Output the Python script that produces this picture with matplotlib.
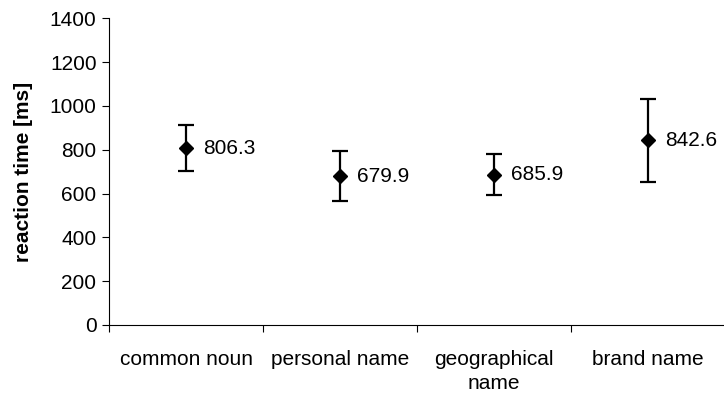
import matplotlib
matplotlib.use("Agg")
import matplotlib.pyplot as plt
import numpy as np

categories = ["common noun", "personal name", "geographical\nname", "brand name"]
means = [806.3, 679.9, 685.9, 842.6]
upper = [912, 795, 779, 1033]
lower = [702, 566, 593, 652]
value_labels = ["806.3", "679.9", "685.9", "842.6"]
yticks = [0, 200, 400, 600, 800, 1000, 1200, 1400]

plt.rcParams['font.family'] = ['Liberation Sans', 'DejaVu Sans']

fig = plt.figure(figsize=(7.24, 3.94), dpi=100)
ax = fig.add_axes([109/724, 1 - 325/394, 616/724, (325 - 18.3)/394])

x = np.arange(len(categories))
yerr = [np.array(means) - np.array(lower), np.array(upper) - np.array(means)]
ax.errorbar(x, means, yerr=yerr, fmt='D', color='black', ms=7.5,
            ecolor='black', elinewidth=1.6, capsize=6, capthick=1.6)

for xi, m, lab in zip(x, means, value_labels):
    ax.annotate(lab, (xi, m), xytext=(12, 0), textcoords='offset points',
                ha='left', va='center', fontsize=15)

ax.set_xlim(-0.5, 3.5)
ax.set_ylim(0, 1400)
ax.set_yticks(yticks)
ax.set_yticklabels([str(v) for v in yticks], fontsize=15)
ax.set_xticks([-0.5, 0.5, 1.5, 2.5])
ax.set_xticklabels([])
ax.set_xticks(x, minor=True)
ax.set_xticklabels(categories, minor=True, fontsize=15, linespacing=1.35)
ax.tick_params(axis='x', which='minor', length=0, pad=18)
ax.tick_params(axis='x', which='major', length=5, width=0.8, direction='out')
ax.tick_params(axis='y', length=5, width=0.8, direction='out', pad=4)

ax.spines['top'].set_visible(False)
ax.spines['right'].set_visible(False)
ax.set_ylabel("reaction time [ms]", fontsize=15, fontweight='bold', labelpad=12)

fig.savefig("out.png", dpi=100)
